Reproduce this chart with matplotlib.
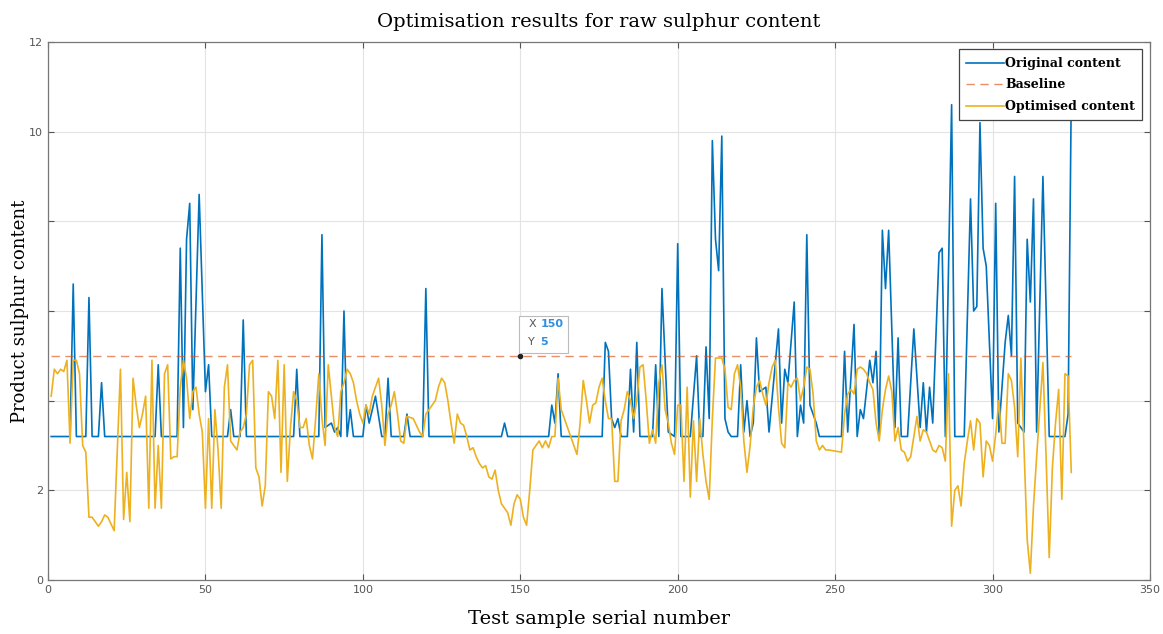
import numpy as np
import matplotlib
matplotlib.use("Agg")
import matplotlib.pyplot as plt
from matplotlib.patches import Rectangle
from matplotlib.transforms import ScaledTranslation

# sample numbers / values (vertices of the polylines)
orig_idx = [1, 7, 8, 9, 12, 13, 14, 16, 17, 18, 34, 35, 36, 41, 42, 43, 44, 45, 46, 48,
            50, 51, 52, 57, 58, 59, 61, 62, 63, 78, 79, 80, 86, 87, 88, 90, 91, 92, 93, 94,
            95, 96, 97, 100, 101, 102, 104, 106, 107, 108, 109, 113, 114, 115, 119, 120, 121, 144, 145, 146,
            159, 160, 161, 162, 163, 176, 177, 178, 179, 180, 181, 182, 184, 185, 186, 187, 188, 192, 193, 194,
            195, 197, 199, 200, 201, 204, 206, 207, 208, 209, 210, 211, 212, 213, 214, 215, 216, 217, 219, 220,
            221, 222, 223, 224, 225, 226, 228, 229, 232, 233, 234, 235, 237, 238, 239, 240, 241, 242, 244, 245,
            252, 253, 254, 256, 257, 258, 259, 261, 262, 263, 264, 265, 266, 267, 269, 270, 271, 273, 275, 277,
            278, 279, 280, 281, 283, 284, 285, 287, 288, 291, 293, 294, 295, 296, 297, 298, 300, 301, 302, 304,
            305, 306, 307, 308, 310, 311, 312, 313, 314, 316, 318, 323, 324, 325]
orig_val = [3.2, 3.2, 6.6, 3.2, 3.2, 6.3, 3.2, 3.2, 4.4, 3.2, 3.2, 4.8, 3.2, 3.2, 7.4, 3.4, 7.6, 8.4, 3.8, 8.6,
            4.2, 4.8, 3.2, 3.2, 3.8, 3.2, 3.2, 5.8, 3.2, 3.2, 4.7, 3.2, 3.2, 7.7, 3.4, 3.5, 3.3, 3.4, 3.2, 6.0,
            3.2, 3.8, 3.2, 3.2, 3.9, 3.5, 4.1, 3.2, 3.2, 4.5, 3.2, 3.2, 3.7, 3.2, 3.2, 6.5, 3.2, 3.2, 3.5, 3.2,
            3.2, 3.9, 3.5, 4.6, 3.2, 3.2, 5.3, 5.1, 3.6, 3.4, 3.6, 3.2, 3.2, 4.7, 3.3, 5.3, 3.2, 3.2, 4.8, 3.2,
            6.5, 3.3, 3.2, 7.5, 3.2, 3.2, 5.0, 3.2, 3.2, 5.2, 3.6, 9.8, 7.6, 6.9, 9.9, 3.6, 3.3, 3.2, 3.2, 4.8,
            3.3, 4.0, 3.2, 3.5, 5.4, 4.2, 4.3, 3.3, 5.6, 3.5, 4.7, 4.4, 6.2, 3.2, 3.9, 3.5, 7.7, 3.9, 3.5, 3.2,
            3.2, 5.1, 3.3, 5.7, 3.2, 3.8, 3.6, 4.9, 4.4, 5.1, 3.2, 7.8, 6.5, 7.8, 3.4, 5.4, 3.2, 3.2, 5.6, 3.4,
            4.4, 3.3, 4.3, 3.5, 7.3, 7.4, 3.2, 10.6, 3.2, 3.2, 8.5, 6.0, 6.1, 10.2, 7.4, 7.0, 3.6, 8.4, 3.3, 5.3,
            5.9, 5.0, 9.0, 3.5, 3.3, 7.6, 6.2, 8.5, 3.3, 9.0, 3.2, 3.2, 3.7, 10.8]

opt_idx = [1, 2, 3, 4, 5, 6, 7, 8, 9, 10, 11, 12, 13, 14, 15, 16, 17, 18, 19, 20,
           21, 23, 24, 25, 26, 27, 28, 29, 30, 31, 32, 33, 34, 35, 36, 37, 38, 39, 40, 41,
           42, 43, 44, 45, 46, 47, 48, 49, 50, 51, 52, 53, 54, 55, 56, 57, 58, 59, 60, 61,
           62, 63, 64, 65, 66, 67, 68, 69, 70, 71, 72, 73, 74, 75, 76, 77, 78, 79, 80, 81,
           82, 83, 84, 85, 86, 87, 88, 89, 90, 91, 92, 93, 94, 95, 96, 97, 98, 99, 100, 101,
           102, 103, 105, 106, 107, 108, 109, 110, 111, 112, 113, 114, 116, 118, 119, 120, 121, 122, 123, 124,
           125, 126, 127, 128, 129, 130, 131, 132, 133, 134, 135, 136, 137, 138, 139, 140, 141, 142, 143, 144,
           145, 146, 147, 148, 149, 150, 151, 152, 153, 154, 155, 156, 157, 158, 159, 160, 161, 162, 163, 164,
           165, 166, 167, 168, 169, 170, 171, 172, 173, 174, 175, 176, 177, 178, 179, 180, 181, 182, 183, 184,
           185, 186, 187, 188, 189, 190, 191, 192, 193, 194, 195, 196, 197, 198, 199, 200, 201, 202, 203, 204,
           205, 206, 207, 208, 209, 210, 211, 212, 213, 214, 215, 216, 217, 218, 219, 220, 221, 222, 223, 224,
           225, 226, 227, 228, 229, 230, 231, 232, 233, 234, 235, 236, 237, 238, 239, 240, 241, 242, 243, 244,
           245, 246, 247, 248, 252, 253, 254, 255, 256, 257, 258, 259, 260, 261, 262, 263, 264, 265, 266, 267,
           268, 269, 270, 271, 272, 273, 274, 275, 276, 277, 278, 279, 281, 282, 283, 284, 285, 286, 287, 288,
           289, 290, 291, 292, 293, 294, 295, 296, 297, 298, 299, 300, 301, 302, 303, 304, 305, 306, 307, 308,
           309, 310, 311, 312, 313, 314, 316, 317, 318, 319, 320, 321, 322, 323, 324, 325]
opt_val = [4.1, 4.7, 4.6, 4.7, 4.65, 4.9, 3.05, 4.9, 4.9, 4.6, 3.0, 2.85, 1.4, 1.4, 1.3, 1.2, 1.3, 1.45, 1.4, 1.25,
           1.1, 4.7, 1.35, 2.4, 1.3, 4.5, 3.9, 3.4, 3.7, 4.1, 1.6, 4.9, 1.6, 3.0, 1.6, 4.6, 4.8, 2.7, 2.75, 2.75,
           4.3, 4.9, 4.5, 3.6, 4.2, 4.3, 3.7, 3.3, 1.6, 3.6, 1.6, 3.8, 2.9, 1.6, 4.3, 4.8, 3.1, 3.0, 2.9, 3.3,
           3.4, 3.7, 4.8, 4.9, 2.5, 2.3, 1.65, 2.1, 4.2, 4.1, 3.6, 4.9, 2.4, 4.8, 2.2, 3.4, 4.2, 4.0, 3.4, 3.4,
           3.6, 3.0, 2.7, 3.6, 4.6, 3.6, 3.0, 4.8, 4.1, 3.4, 3.2, 4.2, 4.4, 4.7, 4.6, 4.4, 4.0, 3.7, 3.5, 3.9,
           3.7, 4.1, 4.5, 3.9, 3.0, 3.7, 3.9, 4.2, 3.7, 3.1, 3.05, 3.65, 3.6, 3.3, 3.2, 3.7, 3.8, 3.9, 4.0, 4.3,
           4.5, 4.4, 4.0, 3.5, 3.05, 3.7, 3.5, 3.45, 3.2, 2.9, 2.95, 2.75, 2.6, 2.5, 2.55, 2.3, 2.25, 2.45, 2.0, 1.7,
           1.6, 1.5, 1.22, 1.7, 1.9, 1.8, 1.4, 1.22, 2.0, 2.9, 3.0, 3.1, 2.95, 3.1, 2.95, 3.2, 3.2, 4.5, 3.8, 3.6,
           3.4, 3.2, 3.0, 2.8, 3.5, 4.45, 4.0, 3.5, 3.9, 3.95, 4.3, 4.5, 4.0, 3.6, 3.6, 2.2, 2.2, 3.55, 3.8, 4.2,
           4.0, 3.6, 4.0, 4.75, 4.8, 4.0, 3.05, 3.35, 3.05, 4.4, 4.8, 3.8, 3.5, 3.05, 2.8, 3.9, 3.9, 2.2, 4.3, 1.85,
           3.55, 2.2, 3.6, 2.8, 2.2, 1.8, 3.6, 4.95, 4.95, 4.95, 4.7, 3.85, 3.8, 4.6, 4.8, 4.3, 3.1, 2.4, 3.0, 3.85,
           4.3, 4.45, 4.15, 3.9, 4.4, 4.75, 4.9, 3.85, 3.05, 2.95, 4.4, 4.3, 4.45, 4.5, 4.0, 4.3, 4.75, 4.7, 4.15, 3.1,
           2.9, 3.0, 2.9, 2.9, 2.85, 3.7, 4.15, 4.25, 4.15, 4.7, 4.75, 4.7, 4.6, 4.4, 4.25, 3.5, 3.1, 3.8, 4.25, 4.55,
           4.2, 3.1, 3.4, 2.9, 2.85, 2.65, 2.75, 3.2, 3.65, 3.1, 3.35, 3.3, 2.9, 2.85, 3.0, 2.95, 2.65, 4.6, 1.2, 2.0,
           2.1, 1.65, 2.6, 3.1, 3.55, 2.9, 3.6, 3.5, 2.3, 3.1, 3.0, 2.65, 3.25, 4.0, 3.05, 3.05, 4.6, 4.45, 3.85, 2.75,
           4.95, 2.95, 0.9, 0.15, 1.65, 2.75, 4.85, 2.75, 0.5, 2.5, 3.5, 4.25, 1.8, 4.6, 4.55, 2.4]

baseline_val = 5
n_samples = 325
tip_x, tip_y = 150, 5

serif = "DejaVu Serif"
fig = plt.figure(figsize=(11.63, 6.34), dpi=100)
ax = fig.add_axes([0.0413, 0.0852, 0.9475, 0.8486])

ax.plot(orig_idx, orig_val, color="#0072BD", lw=1.2, label="Original content")
ax.plot([1, n_samples], [baseline_val, baseline_val], color="#D95319", lw=1.0, alpha=0.65,
        dashes=(6, 4), label="Baseline")
ax.plot(opt_idx, opt_val, color="#EDB120", lw=1.2, label="Optimised content")

ax.set_xlim(0, 350)
ax.set_ylim(0, 12)
ax.set_xticks(np.arange(0, 351, 50))
ax.set_yticks(np.arange(0, 13, 2))
ax.set_yticklabels(["0", "2", "", "", "", "10", "12"])
ax.grid(True, color="#e3e3e3", lw=0.8)
ax.set_axisbelow(True)
ax.tick_params(direction="in", length=4, top=True, right=True, labelsize=8, colors="#555555",
               labelcolor="#555555")
for s in ax.spines.values():
    s.set_color("#777777")
    s.set_linewidth(0.9)

ax.set_title("Optimisation results for raw sulphur content", fontsize=14, family=serif, pad=11)
ax.set_xlabel("Test sample serial number", fontsize=14, family=serif, labelpad=11)
ax.set_ylabel("Product sulphur content", fontsize=13, family=serif)
ax.yaxis.set_label_coords(-0.017, 0.5)

leg = ax.legend(loc="upper right", fancybox=False, framealpha=1, edgecolor="#444444",
                handlelength=3.0, handletextpad=0.1, labelspacing=0.68, borderpad=0.6,
                borderaxespad=0.6, prop={"family": serif, "weight": "bold", "size": 9})
leg.get_frame().set_linewidth(0.9)

# datatip at (150, 5)
ax.plot([tip_x], [tip_y], "o", color="#222222", ms=3, zorder=6)
tip_trans = fig.dpi_scale_trans + ScaledTranslation(tip_x, tip_y, ax.transData)
ax.add_patch(Rectangle((-0.01, 0.03), 0.49, 0.37, transform=tip_trans, fc="white",
                       ec="#bbbbbb", lw=0.8, zorder=7))
ax.annotate("X", xy=(tip_x, tip_y), xytext=(8, 32), textcoords="offset pixels",
            fontsize=8, color="#555555", ha="left", va="center", zorder=8)
ax.annotate("150", xy=(tip_x, tip_y), xytext=(20, 32), textcoords="offset pixels",
            fontsize=8, fontweight="bold", color="#2f8fe0", ha="left", va="center", zorder=8)
ax.annotate("Y", xy=(tip_x, tip_y), xytext=(8, 14), textcoords="offset pixels",
            fontsize=8, color="#555555", ha="left", va="center", zorder=8)
ax.annotate("5", xy=(tip_x, tip_y), xytext=(20, 14), textcoords="offset pixels",
            fontsize=8, fontweight="bold", color="#2f8fe0", ha="left", va="center", zorder=8)

plt.savefig("out.png", dpi=100)
